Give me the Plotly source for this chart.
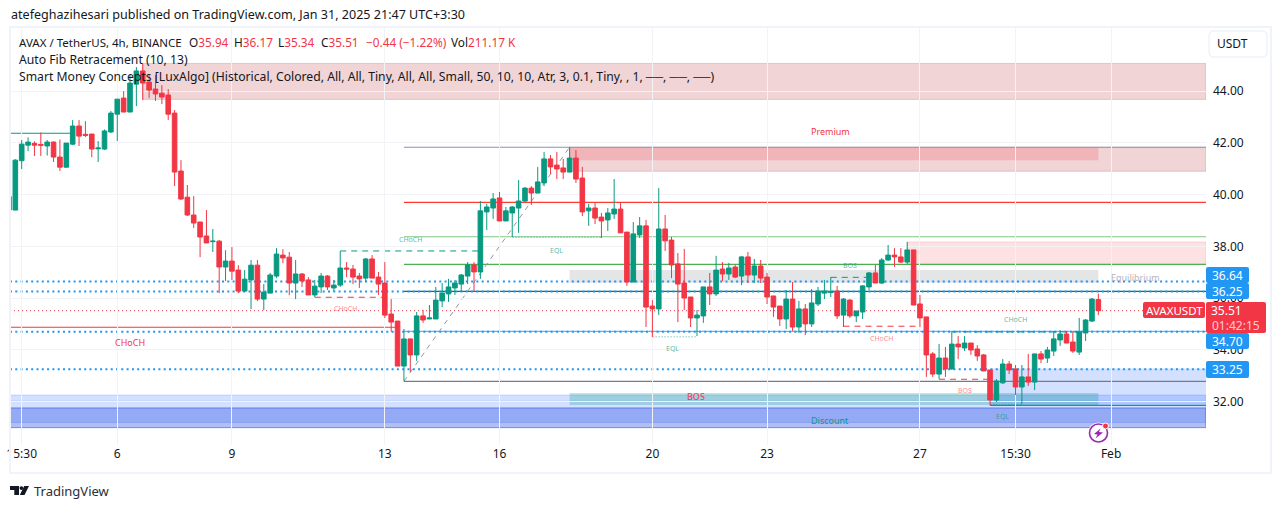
import plotly.graph_objects as go

opens = [39.92,39.40,41.31,41.91,41.98,41.94,41.88,42.03,41.45,41.06,
41.95,42.65,42.33,42.34,41.77,41.76,42.42,43.11,43.73,43.19,
44.27,44.78,44.35,44.08,43.92,43.85,43.15,40.91,39.90,39.21,
38.94,38.40,38.18,38.20,37.20,37.43,37.08,36.27,36.70,37.27,
35.96,36.19,36.85,37.66,37.58,36.58,36.93,36.70,36.12,36.43,
36.85,36.39,36.50,37.16,37.12,36.85,36.77,37.51,36.81,36.58,
35.38,35.11,33.37,34.42,33.80,35.31,35.19,35.19,35.89,36.16,
36.39,36.54,36.85,37.28,37.01,39.33,39.48,39.87,38.98,39.29,
39.48,39.75,40.25,40.06,40.45,41.38,41.14,41.03,40.87,41.41,
40.64,39.37,39.48,39.13,39.02,39.25,39.44,38.55,36.62,38.44,
38.79,35.69,35.58,38.67,38.24,37.32,36.58,36.04,35.23,35.31,
36.43,36.16,37.12,36.93,37.20,36.85,37.59,36.89,37.24,36.81,
36.08,35.69,35.19,35.96,34.88,35.58,35.00,35.77,36.19,36.21,
36.27,35.34,35.92,35.31,35.46,36.43,36.97,36.58,37.47,37.66,
37.59,37.39,37.86,35.77,35.27,33.84,33.06,33.68,33.26,34.22,
34.07,34.26,34.03,33.80,33.22,32.06,32.72,33.45,33.26,32.56,
32.95,32.75,33.84,33.68,33.95,34.38,34.61,34.30,33.91,34.65,
35.11,35.94]
highs = [39.92,41.37,42.11,42.21,42.06,42.40,42.11,42.06,42.13,41.99,
42.88,42.88,42.84,42.34,42.07,42.52,43.23,43.69,44.00,44.62,
44.93,45.05,44.62,44.62,44.23,44.08,43.27,41.33,40.37,39.94,
38.94,39.40,38.67,38.24,37.85,37.97,37.27,37.08,37.47,37.47,
36.54,36.97,37.93,37.89,37.78,37.47,36.97,36.81,36.70,36.97,
36.89,36.70,37.82,37.39,37.28,36.97,37.55,37.66,37.01,37.39,
35.96,35.11,34.80,34.42,35.46,35.54,35.73,36.43,36.58,36.74,
36.70,36.93,37.39,37.39,39.75,39.64,40.06,40.10,39.52,39.56,
40.56,40.29,40.33,41.07,41.65,41.53,41.65,41.38,41.84,41.72,
41.07,39.64,39.67,39.29,39.48,40.60,39.71,38.55,38.94,39.13,
39.02,35.92,40.25,39.21,38.36,37.74,37.90,36.04,35.54,36.43,
36.97,37.63,37.39,37.36,37.28,37.63,37.78,37.51,37.47,36.97,
36.08,35.69,36.31,36.62,35.89,35.77,36.35,36.43,36.70,36.81,
36.47,36.00,35.96,35.50,36.50,37.01,37.28,37.55,38.05,37.93,
37.93,38.17,37.86,36.12,35.27,33.91,34.22,34.11,34.69,34.53,
34.53,34.26,34.18,33.84,33.22,32.87,33.64,33.57,33.41,33.41,
33.84,33.84,33.95,34.11,34.69,34.76,34.69,34.69,35.23,35.19,
36.00,36.17]
lows = [39.40,39.40,40.99,41.68,41.49,41.49,41.51,41.26,40.91,41.04,
41.91,41.88,42.22,41.45,41.26,41.72,42.38,42.07,43.19,43.19,
43.42,43.65,43.73,43.62,43.50,42.88,40.33,39.79,39.17,38.71,
37.58,38.13,37.78,36.19,36.66,36.70,36.19,36.23,35.57,35.88,
35.53,36.19,36.77,37.35,36.11,35.96,36.43,36.12,36.04,36.19,
36.31,36.27,36.43,36.81,36.54,36.39,36.62,36.77,36.12,35.23,
34.69,33.37,32.79,33.14,33.57,35.04,35.19,35.19,35.65,35.85,
36.12,36.27,36.54,36.23,36.74,38.63,39.06,38.98,38.98,38.36,
38.52,39.71,39.60,40.06,40.33,40.80,40.60,40.60,40.87,40.45,
39.17,38.79,38.86,38.32,38.59,39.06,38.52,36.47,36.62,38.32,
34.88,34.49,35.34,37.82,36.77,35.07,35.54,34.88,34.53,35.04,
35.73,36.08,36.66,36.70,36.77,36.50,36.58,36.58,36.58,35.77,
35.27,34.92,34.80,34.73,34.65,34.57,34.88,35.69,35.96,36.04,
35.19,34.88,35.23,35.07,35.19,36.31,36.58,36.54,37.43,37.20,
37.35,37.32,35.73,34.88,32.95,32.95,32.87,32.95,33.22,33.64,
33.95,33.80,33.57,33.18,31.85,31.98,32.68,33.06,32.25,31.90,
32.60,32.44,33.49,33.49,33.76,34.15,34.26,33.88,33.80,34.34,
35.07,35.34]
closes = [39.40,41.33,41.95,42.03,41.91,41.91,42.03,41.45,41.06,41.99,
42.65,42.26,42.29,41.76,41.80,42.46,43.15,43.69,43.19,44.31,
44.78,44.31,44.04,43.89,43.77,43.11,40.87,39.83,39.21,38.90,
38.36,38.13,38.20,37.20,37.43,37.04,36.27,36.73,37.27,35.96,
36.23,36.89,37.70,37.55,36.58,36.93,36.66,36.12,36.46,36.85,
36.43,36.50,37.16,37.12,36.81,36.74,37.51,36.77,36.54,35.34,
35.07,33.37,34.42,33.80,35.31,35.15,35.23,35.92,36.19,36.43,
36.58,36.89,37.28,37.01,39.37,39.52,39.83,38.98,39.37,39.52,
39.75,40.25,40.06,40.49,41.38,41.07,40.99,40.87,41.41,40.60,
39.33,39.48,39.09,38.98,39.29,39.44,38.52,36.62,38.48,38.79,
35.65,35.58,38.67,38.21,37.28,36.54,36.00,35.23,35.34,36.43,
36.16,37.08,36.93,37.16,36.81,37.59,36.89,37.24,36.77,36.04,
35.65,35.19,35.96,34.88,35.58,35.00,35.81,36.27,36.27,36.25,
35.31,35.96,35.31,35.50,36.47,36.97,36.58,37.47,37.66,37.59,
37.39,37.86,35.73,35.23,33.80,33.06,33.68,33.26,34.22,34.11,
34.26,33.99,33.76,33.18,32.06,32.79,33.45,33.22,32.56,32.95,
32.75,33.84,33.64,33.99,34.42,34.61,34.26,33.95,34.69,35.15,
35.96,35.51]
candle_index = list(range(len(opens)))

date_ticks = [2, 17, 35, 59, 77, 101, 119, 143, 158, 173]
date_labels = ["15:30", "6", "9", "13", "16", "20", "23", "27", "15:30", "Feb"]
price_ticks = [32, 34, 36, 38, 40, 42, 44]

GREEN, RED, BLUE = "#089981", "#F23645", "#2196F3"
FONT = "Noto Sans"
X0, X1 = 0.163, 187.9

# zones: x0, x1, price bottom, price top, fill, border
zones = [
    (21.0, X1, 43.68, 45.07, "rgba(178,40,51,0.2)", "rgba(178,40,51,0.2)"),
    (88, X1, 40.90, 41.83, "rgba(178,40,51,0.2)", "rgba(178,40,51,0.2)"),
    (88, 171, 41.33, 41.83, "rgba(242,54,69,0.2)", "rgba(0,0,0,0)"),
    (141, X1, 37.30, 38.17, "rgba(242,54,69,0.15)", "rgba(242,54,69,0.15)"),
    (88, 171, 36.59, 37.08, "rgba(120,123,134,0.2)", "rgba(0,0,0,0)"),
    (X0, X1, 31.19, 32.25, "rgba(41,98,255,0.2)", "rgba(41,98,255,0.2)"),
    (X0, X1, 30.99, 31.75, "rgba(41,80,225,0.37)", "rgba(41,80,225,0.6)"),
    (154, X1, 31.87, 33.28, "rgba(41,98,255,0.2)", "rgba(0,0,0,0)"),
    (88, 171, 31.86, 32.33, "rgba(0,150,136,0.25)", "rgba(0,0,0,0)"),
]
# level lines: x0, x1, price, colour, width, dash
levels = [
    (62, X1, 41.83, "#8D92AE", 1.2, "solid"),
    (62, X1, 39.70, "#FF3B30", 1.2, "solid"),
    (62, X1, 38.37, "#81C784", 1.2, "solid"),
    (62, X1, 37.30, "#4CAF50", 1.2, "solid"),
    (62, X1, 36.26, "#00796B", 1.2, "solid"),
    (62, X1, 34.71, "#64B5F6", 1.2, "solid"),
    (62, X1, 32.78, "#787B86", 1.2, "solid"),
    (X0, 10, 42.37, GREEN, 1.2, "solid"),
    (X0, 61, 34.87, RED, 1.2, "solid"),
    (154, X1, 31.85, "#089B9B", 1.2, "solid"),
    (X0, X1, 32.02, "rgba(41,98,255,0.12)", 1, "solid"),
    (X0, X1, 36.64, BLUE, 2, "2px,3.3px"),
    (X0, X1, 36.25, BLUE, 2, "2px,3.3px"),
    (X0, X1, 34.70, BLUE, 2, "2px,3.3px"),
    (X0, X1, 33.25, BLUE, 2, "2px,3.3px"),
    (X0, X1, 35.51, RED, 1, "1px,3px"),
    (52, 74, 37.82, GREEN, 1, "6px,5px"),
    (48, 58.7, 36.03, RED, 1, "6px,5px"),
    (129, 136, 36.80, GREEN, 1, "6px,5px"),
    (131, 143, 34.91, RED, 1, "6px,5px"),
    (148, 168, 34.69, GREEN, 1, "6px,5px"),
    (146, 154, 32.86, RED, 1, "6px,5px"),
    (79, 93, 38.35, "rgba(8,153,129,0.5)", 1, "1.5px,1.5px"),
    (101, 108, 34.50, "rgba(8,153,129,0.5)", 1, "1.5px,1.5px"),
    (154, 159, 31.88, "rgba(8,153,129,0.5)", 1, "1.5px,1.5px"),
]
# SMC labels: x, price, text, colour, size
labels = [
    (128.9, 42.42, "Premium", RED, 9),
    (176.8, 36.81, "Equilibrium", "#B2B5BE", 9),
    (128.9, 31.25, "Discount", GREEN, 9),
    (19, 34.30, "CHoCH", RED, 9),
    (107.9, 32.21, "BOS", RED, 9),
    (63, 38.28, "CHoCH", "rgba(8,153,129,0.7)", 7),
    (86, 37.83, "EQL", "rgba(8,153,129,0.7)", 7),
    (52.9, 35.58, "CHoCH", "rgba(242,54,69,0.6)", 7),
    (104.1, 34.04, "EQL", "rgba(8,153,129,0.7)", 7),
    (132, 37.27, "BOS", "rgba(8,153,129,0.7)", 7),
    (137, 34.44, "CHoCH", "rgba(242,54,69,0.6)", 7),
    (158, 35.18, "CHoCH", "rgba(8,153,129,0.7)", 7),
    (150, 32.43, "BOS", "rgba(242,54,69,0.6)", 7),
    (156, 31.41, "EQL", "rgba(8,153,129,0.7)", 7),
]

PL, PR, PT, PB = 10, 1206, 28, 445
def px(x): return (x - PL) / (PR - PL)
def py(y): return (PB - y) / (PB - PT)
def rrect(x0, y0, x1, y1, r=2):
    return (f"M{px(x0+r)},{py(y0)} L{px(x1-r)},{py(y0)} Q{px(x1)},{py(y0)} {px(x1)},{py(y0+r)} "
            f"L{px(x1)},{py(y1-r)} Q{px(x1)},{py(y1)} {px(x1-r)},{py(y1)} L{px(x0+r)},{py(y1)} "
            f"Q{px(x0)},{py(y1)} {px(x0)},{py(y1-r)} L{px(x0)},{py(y0+r)} Q{px(x0)},{py(y0)} {px(x0+r)},{py(y0)} Z")
def poly(pts):
    return "M" + " L".join(f"{px(a)},{py(b)}" for a, b in pts) + " Z"

fig = go.Figure(go.Candlestick(
    x=candle_index, open=opens, high=highs, low=lows, close=closes,
    increasing=dict(line=dict(color=GREEN, width=1), fillcolor=GREEN),
    decreasing=dict(line=dict(color=RED, width=1), fillcolor=RED),
    whiskerwidth=0, hoverinfo="skip", showlegend=False))

shapes = []
for x0, x1, b, t, fill, border in zones:
    shapes.append(dict(type="rect", layer="below", xref="x", yref="y", x0=x0, x1=x1, y0=b, y1=t,
                       fillcolor=fill, line=dict(color=border, width=1)))
for x0, x1, p, c, w, d in levels:
    shapes.append(dict(type="line", layer="below", xref="x", yref="y", x0=x0, x1=x1, y0=p, y1=p,
                       line=dict(color=c, width=w, dash=d)))
# auto-fib trend line
shapes.append(dict(type="line", layer="below", xref="x", yref="y", x0=62, x1=88, y0=32.78, y1=41.83,
                   line=dict(color="#9598A1", width=1, dash="5px,5px")))

def pshape(**k):
    shapes.append(dict(xref="paper", yref="paper", layer="above", **k))
# frame
pshape(type="rect", x0=px(10), x1=px(1271), y0=py(473), y1=py(27), line=dict(color="#F0F3FA", width=2))
# USDT button
pshape(type="path", path=rrect(1209, 31, 1267, 57, 5), line=dict(color="#F0F3FA", width=1.5), fillcolor="white")
# price badges
for y0, y1 in [(267, 283), (283, 299), (333, 349), (361, 378)]:
    pshape(type="path", path=rrect(1206, y0, 1249, y1), fillcolor=BLUE, line=dict(width=0))
pshape(type="path", path=rrect(1206, 302, 1266, 333), fillcolor=RED, line=dict(width=0))
pshape(type="path", path=rrect(1143, 302, 1205, 318), fillcolor=RED, line=dict(width=0))
# publish icon
pshape(type="circle", x0=px(1088), x1=px(1109), y0=py(443.5), y1=py(422.5), fillcolor="white", line=dict(width=0))
pshape(type="circle", x0=px(1089.5), x1=px(1107.5), y0=py(442), y1=py(424), fillcolor="white", line=dict(color="#9C27B0", width=1.6))
pshape(type="path", path=poly([(1100.5, 428.5), (1094, 434), (1097.5, 434.5), (1095.5, 438.5), (1103, 432.5), (1099, 432)]),
       fillcolor="#9C27B0", line=dict(width=0))
pshape(type="circle", x0=px(1102.5), x1=px(1108.5), y0=py(429), y1=py(423), fillcolor=RED, line=dict(color="white", width=1))
# logo
pshape(type="path", path=poly([(10, 486), (19, 486), (19, 495), (14.3, 495), (14.3, 490), (10, 490)]), fillcolor="#131722", line=dict(width=0))
pshape(type="circle", x0=px(19.5), x1=px(23.3), y0=py(490), y1=py(486.2), fillcolor="#131722", line=dict(width=0))
pshape(type="path", path=poly([(24.2, 486), (29, 486), (24.5, 495), (19.8, 495)]), fillcolor="#131722", line=dict(width=0))

ann = []
for x, p, t, c, s in labels:
    ann.append(dict(x=x, y=p, xref="x", yref="y", text=t, showarrow=False,
                    font=dict(family=FONT, size=s, color=c)))
def ptext(x, y, t, size=12, color="#131722", anchor="left"):
    ann.append(dict(x=px(x), y=py(y), xref="paper", yref="paper", text=t, showarrow=False, xanchor=anchor,
                    yanchor="middle", font=dict(family=FONT, size=size, color=color)))
ptext(9, 15, "atefeghazihesari published on TradingView.com, Jan 31, 2025 21:47 UTC+3:30", 12.55)
ptext(17, 42, "AVAX / TetherUS, 4h, BINANCE", 11.5)
for x, k, v in [(187, "O", "35.94"), (232, "H", "36.17"), (276, "L", "35.34"), (319, "C", "35.51")]:
    ptext(x, 42, f'{k}<span style="color:{RED}">{v}</span>', 11.8)
ptext(364, 42, "−0.44 (−1.22%)", 11.8, RED)
ptext(449, 42, f'Vol<span style="color:{RED}">211.17 K</span>', 11.8)
ptext(17, 59.5, "Auto Fib Retracement (10, 13)", 12.2)
ptext(17, 76.5, "Smart Money Concepts [LuxAlgo] (Historical, Colored, All, All, Tiny, All, All, Small, 50, 10, 10, Atr, 3, 0.1, Tiny, , 1, ──, ──, ──)", 12.2)
ptext(1232, 44, "USDT", 12, anchor="center")
for y, t in [(275, "36.64"), (291, "36.25"), (341, "34.70"), (369.5, "33.25")]:
    ptext(1227.5, y, t, 12, "white", "center")
ptext(1174, 310, "AVAXUSDT", 11.5, "white", "center")
ptext(1226, 310, "35.51", 12, "white", "center")
ptext(1236, 325, "01:42:15", 12, "rgba(255,255,255,0.75)", "center")
ptext(32, 491, "TradingView", 13, "#2A2E39")

fig.update_layout(
    width=1281, height=509, margin=dict(l=PL, r=1281 - PR, t=PT, b=509 - PB, autoexpand=False),
    paper_bgcolor="white", plot_bgcolor="white", showlegend=False, shapes=shapes, annotations=ann,
    boxgap=0.28, boxgroupgap=0,
    xaxis=dict(range=[X0, X1], tickmode="array", tickvals=date_ticks, ticktext=date_labels, rangeslider=dict(visible=False),
               showgrid=True, gridcolor="#F2F3F6", gridwidth=1, zeroline=False, showline=False, ticks="",
               tickfont=dict(family=FONT, size=12, color="#131722"), fixedrange=True),
    yaxis=dict(range=[30.318, 46.44], side="right", tickmode="array", tickvals=price_ticks,
               ticktext=[f"{v:.2f}" for v in price_ticks], showgrid=True, gridcolor="#F2F3F6", gridwidth=1,
               zeroline=False, showline=False, ticks="", tickfont=dict(family=FONT, size=12, color="#131722"),
               ticklabelstandoff=6, fixedrange=True),
)
fig.write_html("out.html", config=dict(displayModeBar=False),
               post_script="document.body.style.margin='0';document.body.style.overflow='hidden';")
